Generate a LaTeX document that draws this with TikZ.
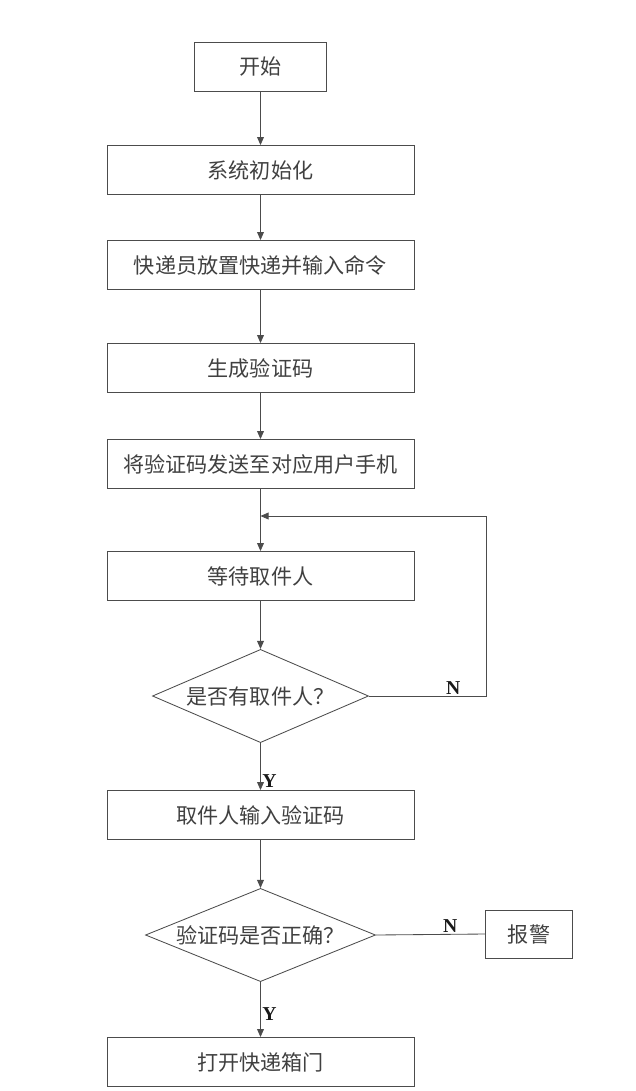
\documentclass[tikz,border=0pt]{standalone}
\usepackage{fontspec}
\usepackage{tikz}
\usetikzlibrary{shapes.geometric, arrows.meta, positioning}
\newfontfamily\cjk{Noto Sans CJK SC}
\setmainfont{Liberation Serif}

\begin{document}
\begin{tikzpicture}[x=0.025cm, y=-0.025cm,
    box/.style={rectangle, draw=black!70, line width=0.6pt, minimum width=7.675cm, minimum height=1.225cm, align=center, text=black!75, font=\cjk\fontsize{15}{18}\selectfont},
    smallbox/.style={rectangle, draw=black!70, line width=0.6pt, minimum width=3.3cm, minimum height=1.225cm, align=center, text=black!75, font=\cjk\fontsize{15}{18}\selectfont},
    decision/.style={diamond, draw=black!70, line width=0.6pt, aspect=2.33, inner sep=0pt, minimum width=5.4cm, minimum height=2.33cm, align=center, text=black!75, font=\cjk\fontsize{15}{18}\selectfont},
    arrow/.style={-{Triangle[length=2mm, width=1.7mm]}, draw=black!70, line width=0.6pt},
    line/.style={draw=black!70, line width=0.6pt},
    yn/.style={font=\bfseries\fontsize{14}{16}\selectfont, text=black!90, inner sep=1pt}
]
    \useasboundingbox (0,0) rectangle (636,1091);

    % Main column
    \node[smallbox] (start) at (260.5, 66.5) {开始};
    \node[box] (init) at (260.5, 170) {系统初始化};
    \node[box] (place) at (260.5, 265) {快递员放置快递并输入命令};
    \node[box] (gen) at (260.5, 368) {生成验证码};
    \node[box] (send) at (260.5, 464) {将验证码发送至对应用户手机};
    \node[box] (wait) at (260.5, 576) {等待取件人};
    \node[decision] (q1) at (260.5, 696) {是否有取件人？};
    \node[box] (input) at (260.5, 815) {取件人输入验证码};
    \node[decision, minimum width=5.75cm] (q2) at (260.5, 935) {验证码是否正确？};
    \node[box] (open) at (260.5, 1062) {打开快递箱门};
    \node[smallbox, minimum width=2.17cm, minimum height=1.2cm] (alarm) at (529, 934) {报警};

    \draw[arrow] (start) -- (init);
    \draw[arrow] (init) -- (place);
    \draw[arrow] (place) -- (gen);
    \draw[arrow] (gen) -- (send);
    \draw[arrow] (send) -- (wait);
    \draw[arrow] (wait) -- (q1);
    \draw[arrow] (input) -- (q2);

    % Loop back when nobody comes
    \coordinate (merge) at (260.5, 516);
    \coordinate (loopr) at (486, 696);
    \draw[arrow] (q1.east) -- node[yn, above, pos=0.72] {N} (loopr) |- (merge);

    % Yes branches
    \draw[arrow] (q1) -- node[yn, right, pos=0.8] {Y} (input);
    \draw[arrow] (q2) -- node[yn, right, pos=0.58] {Y} (open);

    % Wrong code
    \draw[line] (q2.east) -- node[yn, above, pos=0.68] {N} (alarm.west);
\end{tikzpicture}
\end{document}
